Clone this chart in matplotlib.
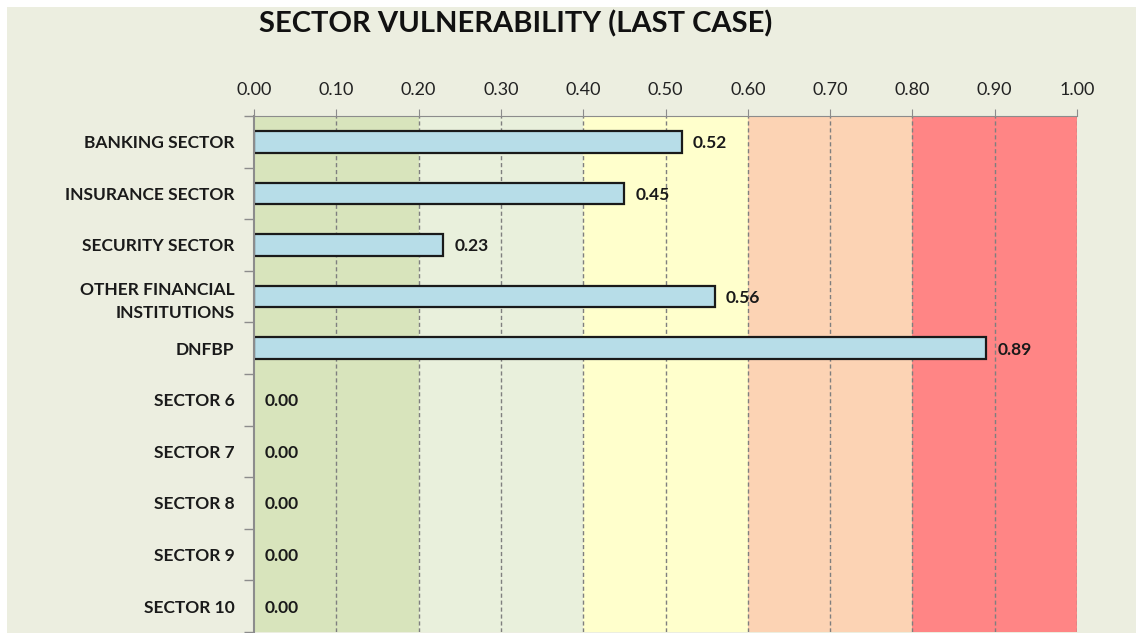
import matplotlib.pyplot as plt
import matplotlib.patches as mpatches
import numpy as np

# data
sectors = ["BANKING SECTOR", "INSURANCE SECTOR", "SECURITY SECTOR",
           "OTHER FINANCIAL\nINSTITUTIONS", "DNFBP", "SECTOR 6", "SECTOR 7",
           "SECTOR 8", "SECTOR 9", "SECTOR 10"]
values = [0.52, 0.45, 0.23, 0.56, 0.89, 0.00, 0.00, 0.00, 0.00, 0.00]
x_ticks = [0.0, 0.1, 0.2, 0.3, 0.4, 0.5, 0.6, 0.7, 0.8, 0.9, 1.0]

# background risk bands (from, to, colour)
band_edges = [0.0, 0.2, 0.4, 0.6, 0.8, 1.0]
band_colors = ["#D8E4BC", "#E9F0DC", "#FFFFCC", "#FCD3B4", "#FF8585"]

plt.rcParams['font.family'] = ['Lato', 'DejaVu Sans']

fig = plt.figure(figsize=(11.36, 6.33), dpi=100)
fig.patch.set_facecolor("white")
# chart area background (white margin at top and left)
bg = mpatches.Rectangle((7 / 1136, 0), 1, 1 - 7 / 633,
                        transform=fig.transFigure,
                        facecolor="#ECEEE0", edgecolor="none")
bg.set_zorder(-10)
fig.add_artist(bg)

ax = fig.add_axes([254 / 1136, 1 / 633, (1077 - 254) / 1136, (632 - 116) / 633])
ax.set_facecolor("none")

for i in range(len(band_colors)):
    ax.axvspan(band_edges[i], band_edges[i + 1], color=band_colors[i],
               zorder=0, lw=0)

y = np.arange(len(sectors))
vals = np.array(values)
ax.barh(y, vals, height=0.42, color="#B7DDE8",
        edgecolor=["#1A1A1A" if v > 0 else "none" for v in vals],
        linewidth=1.6, zorder=3)

for yi, v in zip(y, values):
    ax.annotate("%.2f" % v, (v, yi), xytext=(8, -1), textcoords="offset points",
                ha="left", va="center", fontsize=12.5, fontweight="bold",
                color="#1A1A1A", zorder=4)

ax.set_xlim(0, 1.0)
ax.set_ylim(len(sectors) - 0.5, -0.5)

# vertical dashed grid
for t in x_ticks[1:]:
    ax.axvline(t, color="#7F7F7F", lw=1, ls=(0, (3, 2)), zorder=2)

ax.xaxis.tick_top()
ax.set_xticks(x_ticks)
ax.set_xticklabels(["%.2f" % t for t in x_ticks], fontsize=13, color="#222222")
ax.tick_params(axis="x", which="major", direction="out", length=5,
               color="#8C8C8C", pad=8)

ax.set_yticks(y)
ax.set_yticklabels(sectors, fontsize=12.5, fontweight="bold", color="#1A1A1A",
                   linespacing=1.5)
ax.set_yticks(np.arange(len(sectors) + 1) - 0.5, minor=True)
ax.tick_params(axis="y", which="major", length=0, pad=14)
ax.tick_params(axis="y", which="minor", direction="out", length=7,
               color="#8C8C8C", width=1)

for s in ["right", "bottom"]:
    ax.spines[s].set_visible(False)
ax.spines["top"].set_color("#8C8C8C")
ax.spines["left"].set_color("#8C8C8C")
ax.spines["left"].set_linewidth(1.5)
ax.spines["left"].set_zorder(5)

fig.text(516 / 1136, 1 - 24 / 633, "SECTOR VULNERABILITY (LAST CASE)",
         ha="center", va="center", fontsize=21, fontweight="bold",
         color="#111111")

fig.savefig("out.png", dpi=100)
